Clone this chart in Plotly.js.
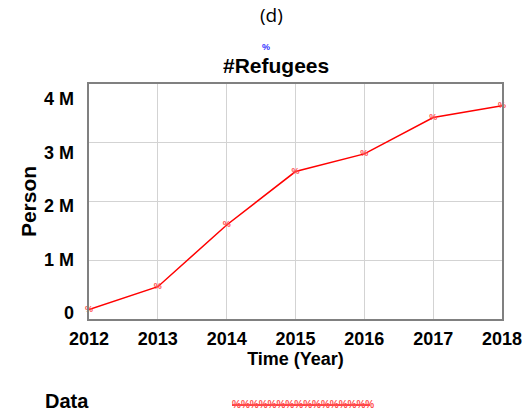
<!DOCTYPE html>
<html>
<head>
<meta charset="utf-8">
<script src="https://cdn.plot.ly/plotly-3.0.1.min.js"></script>
<style>
  html, body { margin: 0; padding: 0; background: #fff; }
  #chart { width: 532px; height: 417px; }
</style>
</head>
<body>
<div id="chart"></div>
<script>
// Refugee counts per year (persons)
const years = [2012, 2013, 2014, 2015, 2016, 2017, 2018];
const refugees = [160000, 550000, 1600000, 2510000, 2810000, 3430000, 3630000];
const yGridVals = [0, 1000000, 2000000, 3000000, 4000000];
// Value labels on the left scale, in millions
const yLabelVals = [0, 1, 2, 3, 4];
const yLabelText = ['0', '1 M', '2 M', '3 M', '4 M'];
const xTickVals = [2012, 2013, 2014, 2015, 2016, 2017, 2018];

const FONT = 'Liberation Sans, Arial, sans-serif';
const RED = '#ff0000';
const MARK = '#ff5050';

const trace = {
  x: years,
  y: refugees,
  type: 'scatter',
  mode: 'lines+text',
  line: { color: RED, width: 1.5 },
  text: years.map(() => '%'),
  textposition: 'middle center',
  textfont: { family: FONT, size: 9, color: MARK, weight: 'bold' },
  showlegend: false,
  cliponaxis: false,
  hoverinfo: 'x+y'
};

// Label scale for the left axis (labels only, no marks)
const labelTrace = {
  x: [], y: [], type: 'scatter', mode: 'lines', yaxis: 'y2', showlegend: false, hoverinfo: 'skip'
};

const layout = {
  width: 532,
  height: 417,
  margin: { l: 89, r: 30, t: 84, b: 98 },
  paper_bgcolor: '#ffffff',
  plot_bgcolor: '#ffffff',
  font: { family: FONT, color: '#000' },
  xaxis: {
    range: [2012, 2018],
    tickvals: xTickVals,
    ticktext: xTickVals.map(String),
    showgrid: true,
    gridcolor: '#d3d3d3',
    gridwidth: 1,
    showline: true,
    linecolor: '#808080',
    linewidth: 2,
    mirror: true,
    zeroline: false,
    ticks: '',
    ticklabelstandoff: 2,
    tickfont: { family: FONT, size: 18, color: '#000', weight: 'bold' },
    title: { text: 'Time (Year)', font: { family: FONT, size: 18, color: '#000', weight: 'bold' }, standoff: 0 }
  },
  yaxis: {
    range: [0, 4000000],
    tickvals: yGridVals,
    showticklabels: false,
    showgrid: true,
    gridcolor: '#d3d3d3',
    gridwidth: 1,
    showline: true,
    linecolor: '#808080',
    linewidth: 2,
    mirror: true,
    zeroline: false,
    ticks: ''
  },
  yaxis2: {
    overlaying: 'y',
    side: 'left',
    range: [-0.112, 4.28],
    tickvals: yLabelVals,
    ticktext: yLabelText,
    showgrid: false,
    showline: false,
    zeroline: false,
    ticks: '',
    ticklabelstandoff: 14,
    tickfont: { family: FONT, size: 18, color: '#000', weight: 'bold' },
    title: { text: 'Person', font: { family: FONT, size: 21, color: '#000', weight: 'bold' }, standoff: 1 }
  },
  annotations: [
    { text: '(d)', xref: 'paper', yref: 'paper', x: 0.5, y: 1,
      xanchor: 'center', yanchor: 'middle', showarrow: false,
      font: { family: 'Open Sans, sans-serif', size: 19, color: '#000' } },
    { text: '%', xref: 'paper', yref: 'paper', x: 0.5, y: 1, xanchor: 'center', yanchor: 'middle',
      showarrow: false, font: { family: FONT, size: 9, color: '#3333ff', weight: 'bold' } },
    { text: '#Refugees', xref: 'paper', yref: 'paper', x: 0.5, y: 1, xanchor: 'center', yanchor: 'middle',
      showarrow: false, font: { family: FONT, size: 21, color: '#000', weight: 'bold' } },
    { text: 'Data', xref: 'paper', yref: 'paper', x: 0, y: 0, xanchor: 'left', yanchor: 'middle',
      showarrow: false, font: { family: FONT, size: 20, color: '#000', weight: 'bold' } },
    { text: '%%%%%%%%%%%%%%%%', xref: 'paper', yref: 'paper', x: 0, y: 0, xanchor: 'left', yanchor: 'middle',
      showarrow: false, font: { family: FONT, size: 10, color: MARK, weight: 'bold' } }
  ]
};

// Place header and legend annotations in pixel terms relative to the plot area
const plotW = layout.width - layout.margin.l - layout.margin.r;
const plotH = layout.height - layout.margin.t - layout.margin.b;
function px(xPix) { return (xPix - layout.margin.l) / plotW; }
function py(yPix) { return (layout.height - layout.margin.b - yPix) / plotH; }
const ann = layout.annotations;
ann[0].x = px(271); ann[0].y = py(15);
ann[1].x = px(266); ann[1].y = py(47);
ann[2].x = px(276); ann[2].y = py(66);
ann[3].x = px(43);  ann[3].y = py(401);
ann[4].x = px(230); ann[4].y = py(405);

layout.shapes = [
  { type: 'line', xref: 'paper', yref: 'paper', x0: px(232), x1: px(370), y0: py(405), y1: py(405),
    line: { color: RED, width: 1.5 } }
];

Plotly.newPlot('chart', [trace, labelTrace], layout, { displayModeBar: false, staticPlot: true });
</script>
</body>
</html>
